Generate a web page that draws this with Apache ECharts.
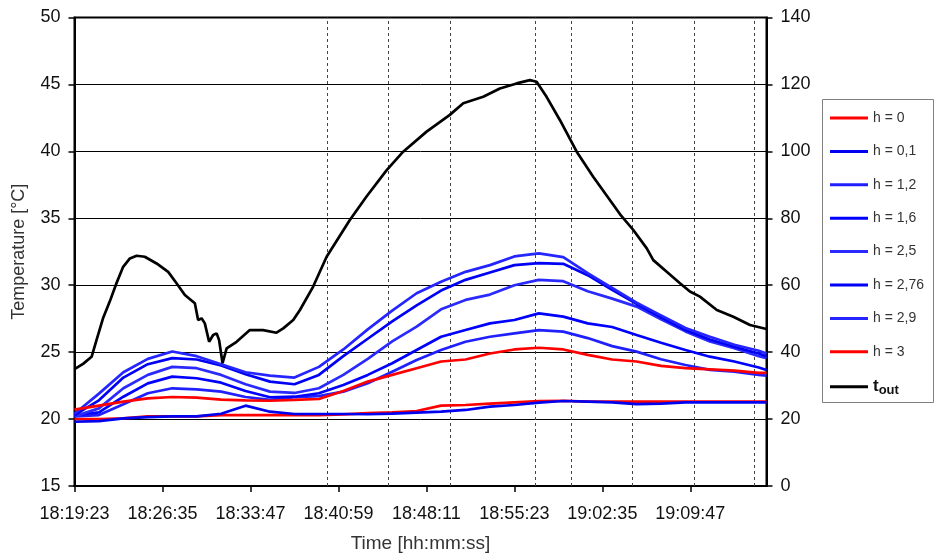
<!DOCTYPE html>
<html>
<head>
<meta charset="utf-8">
<script src="https://cdn.jsdelivr.net/npm/echarts@6/dist/echarts.min.js"></script>
<style>
html,body{margin:0;padding:0;background:#fff;}
#chart{width:934px;height:553px;}
</style>
</head>
<body>
<div id="chart"></div>
<script>
// ---------- DATA ----------
const START = '18:19:23';
const END = '19:16:01';
const xTickStep = '00:07:12';

const gridTimes = ['18:19:23','18:21:23','18:23:23','18:25:23','18:27:23','18:29:23','18:31:23','18:33:23',
  '18:35:23','18:37:23','18:39:23','18:41:23','18:43:23','18:45:23','18:47:23','18:49:23','18:51:23',
  '18:53:23','18:55:23','18:57:23','18:59:23','19:01:23','19:03:23','19:05:23','19:07:23','19:09:23',
  '19:11:23','19:13:23','19:15:23','19:16:01'];

const h0   = [20.0,20.0,20.05,20.2,20.2,20.2,20.3,20.3,20.3,20.3,20.3,20.35,20.45,20.5,20.6,21.0,21.05,21.15,21.25,21.35,21.37,21.3,21.3,21.3,21.3,21.3,21.3,21.3,21.3,21.3];
const h01  = [19.8,19.85,20.05,20.15,20.2,20.2,20.4,21.0,20.55,20.38,20.38,20.38,20.36,20.4,20.48,20.55,20.68,20.93,21.05,21.23,21.35,21.3,21.25,21.12,21.15,21.25,21.25,21.25,21.25,21.25];
const h12  = [20.2,20.3,21.1,21.93,22.3,22.22,22.05,21.65,21.43,21.63,21.72,22.05,22.67,23.54,24.41,25.16,25.78,26.15,26.4,26.65,26.53,26.05,25.45,25.04,24.47,24.04,23.67,23.54,23.3,23.24];
const h16  = [20.3,20.5,21.67,22.67,23.17,23.05,22.72,22.1,21.63,21.67,21.93,22.55,23.3,24.17,25.16,26.15,26.65,27.15,27.4,27.9,27.65,27.15,26.88,26.28,25.7,25.16,24.66,24.3,23.85,23.67];
const h25  = [20.2,20.8,22.3,23.3,23.9,23.8,23.3,22.6,22.05,21.95,22.3,23.3,24.5,25.8,26.9,28.2,28.9,29.3,30.0,30.4,30.3,29.55,29.0,28.4,27.45,26.55,25.8,25.3,24.7,24.55];
const h276 = [20.3,21.4,23.1,24.1,24.55,24.45,24.0,23.35,22.8,22.6,23.3,24.7,26.0,27.3,28.5,29.6,30.4,30.95,31.5,31.65,31.6,30.75,29.65,28.6,27.6,26.65,25.95,25.4,24.9,24.7];
const h29  = [20.4,21.9,23.5,24.5,25.05,24.7,24.1,23.5,23.25,23.1,23.9,25.2,26.7,28.1,29.4,30.26,31.0,31.5,32.15,32.38,32.1,30.9,29.8,28.7,27.75,26.8,26.15,25.55,25.1,24.9];
const h3   = [20.7,21.0,21.3,21.55,21.65,21.6,21.45,21.4,21.37,21.43,21.5,22.1,22.8,23.3,23.8,24.3,24.45,24.9,25.2,25.33,25.2,24.8,24.45,24.3,23.97,23.8,23.72,23.62,23.45,23.45];

const toutTimes = ['18:19:23','18:20:05','18:20:47','18:21:11','18:21:43','18:22:16','18:22:49','18:23:22','18:23:55','18:24:28',
  '18:25:08','18:26:06','18:27:03','18:27:44','18:28:25','18:29:14','18:29:30','18:29:47','18:30:03','18:30:24',
  '18:30:44','18:31:01','18:31:13','18:31:30','18:31:50','18:32:39','18:33:44','18:34:49','18:35:55','18:36:28',
  '18:37:17','18:37:50','18:38:55','18:40:01','18:41:55','18:43:17','18:44:56','18:46:17','18:48:12','18:50:06',
  '18:51:12','18:52:50','18:54:12','18:55:34','18:56:39','18:57:12','18:58:01','18:59:07','19:00:29','19:01:50',
  '19:04:02','19:05:07','19:06:13','19:06:45','19:07:51','19:08:56','19:09:45','19:10:34','19:11:57','19:13:18',
  '19:14:40','19:16:01'];
const tout = [34.9,36.5,38.6,43.6,50.1,55.1,60.6,65.5,68.0,68.8,
  68.5,66.5,64.0,60.6,57.1,54.6,49.6,50.1,48.6,43.1,
  45.1,45.6,43.6,36.7,41.1,43.1,46.6,46.6,45.8,47.1,
  49.6,52.6,59.6,68.5,79.5,86.5,94.4,99.9,105.9,110.9,
  114.4,116.3,118.8,120.3,121.3,120.8,116.3,109.3,99.9,92.4,
  81.2,76.5,71.0,67.5,64.0,60.6,58.1,56.6,52.6,50.6,
  48.1,46.9];

const markerTimes = ['18:40:04','18:45:05','18:50:06','18:57:07','19:00:04','19:05:04','19:10:06','19:15:01'];

const seriesNames = ['h = 0','h = 0,1','h = 1,2','h = 1,6','h = 2,5','h = 2,76','h = 2,9','h = 3','tout'];
const seriesValues = [h0, h01, h12, h16, h25, h276, h29, h3];
const seriesColors = ['#FF0000','#0000F0','#2020FF','#0000FF','#2A2AFF','#0000F5','#2525FF','#FF0000','#000000'];

// ---------- HELPERS ----------
function toSec(s){ const p = s.split(':').map(Number); return p[0]*3600 + p[1]*60 + p[2]; }
const t0 = toSec(START);
const el = s => toSec(s) - t0;
function fmt(v){
  let s = Math.round(t0 + v);
  const h = Math.floor(s/3600); s -= h*3600;
  const m = Math.floor(s/60); const x = s - m*60;
  const p = n => (n < 10 ? '0' : '') + n;
  return p(h) + ':' + p(m) + ':' + p(x);
}
const FONT = "'Liberation Sans', Arial, sans-serif";
const LINE_ICON = 'path://M0,0L0.01,0L0.01,0.01Z M0,5.5L38,5.5L38,8.5L0,8.5Z M0,13.99L0.01,13.99L0.01,14Z';

const series = seriesValues.map((vals, i) => ({
  name: seriesNames[i],
  type: 'line',
  symbol: 'none',
  showSymbol: false,
  animation: false,
  data: gridTimes.map((t, k) => [el(t), vals[k]]),
  lineStyle: { width: 2.7, color: seriesColors[i] },
  itemStyle: { color: seriesColors[i] },
  z: 3
}));
series[0].markLine = {
  silent: true,
  symbol: ['none','none'],
  label: { show: false },
  lineStyle: { type: [3,3], color: '#444', width: 1 },
  data: markerTimes.map(t => ({ xAxis: el(t) })),
  z: 1
};
series.push({
  name: 'tout',
  type: 'line',
  yAxisIndex: 1,
  symbol: 'none',
  showSymbol: false,
  animation: false,
  data: toutTimes.map((t, k) => [el(t), tout[k]]),
  lineStyle: { width: 2.7, color: '#000' },
  itemStyle: { color: '#000' },
  z: 4
});

const chart = echarts.init(document.getElementById('chart'), null, { renderer: 'canvas' });
chart.setOption({
  animation: false,
  backgroundColor: '#fff',
  textStyle: { fontFamily: FONT },
  grid: { left: 74.5, right: 167.5, top: 17.5, bottom: 67, show: true, borderColor: '#000', borderWidth: 2, containLabel: false, outerBoundsMode: 'none' },
  xAxis: {
    type: 'value',
    min: 0,
    max: el(END),
    interval: toSec(xTickStep),
    name: 'Time [hh:mm:ss]',
    nameLocation: 'middle',
    nameGap: 48,
    nameTextStyle: { fontSize: 19, color: '#333', fontFamily: FONT },
    axisLine: { show: true, lineStyle: { color: '#000', width: 2 } },
    axisTick: { show: true, length: 6, lineStyle: { color: '#000', width: 1.5 } },
    axisLabel: { formatter: fmt, fontSize: 18, color: '#111', margin: 19, showMaxLabel: false, fontFamily: FONT },
    splitLine: { show: false }
  },
  yAxis: [{
    type: 'value',
    min: 15, max: 50, interval: 5,
    name: 'Temperature [°C]',
    nameLocation: 'middle',
    nameGap: 46,
    nameTextStyle: { fontSize: 18, color: '#333', fontFamily: FONT },
    axisLine: { show: true, lineStyle: { color: '#000', width: 2 } },
    axisTick: { show: true, length: 6, lineStyle: { color: '#000', width: 1.5 } },
    axisLabel: { fontSize: 18, color: '#111', margin: 14, fontFamily: FONT },
    splitLine: { show: true, lineStyle: { color: '#000', width: 1 } }
  }, {
    type: 'value',
    min: 0, max: 140, interval: 20,
    position: 'right',
    axisLine: { show: true, lineStyle: { color: '#000', width: 2 } },
    axisTick: { show: true, length: 6, lineStyle: { color: '#000', width: 1.5 } },
    axisLabel: { fontSize: 18, color: '#111', margin: 14, fontFamily: FONT },
    splitLine: { show: false }
  }],
  legend: {
    orient: 'vertical',
    left: 830,
    top: 111,
    padding: 0,
    icon: LINE_ICON,
    itemWidth: 38,
    itemHeight: 14,
    itemGap: 19.4,
    data: seriesNames,
    formatter: n => (n === 'tout' ? '{t|t}{s|out}' : n),
    textStyle: {
      fontSize: 14, color: '#333', fontFamily: FONT,
      rich: {
        t: { fontSize: 17, fontWeight: 'bold', color: '#111', fontFamily: FONT },
        s: { fontSize: 13, fontWeight: 'bold', color: '#111', fontFamily: FONT, padding: [7, 0, 0, 0] }
      }
    }
  },
  graphic: [{
    type: 'rect',
    shape: { x: 822.5, y: 99.5, width: 111, height: 303 },
    style: { fill: 'none', stroke: '#808080', lineWidth: 1 },
    silent: true,
    z: 100
  }],
  series: series
});
</script>
</body>
</html>
